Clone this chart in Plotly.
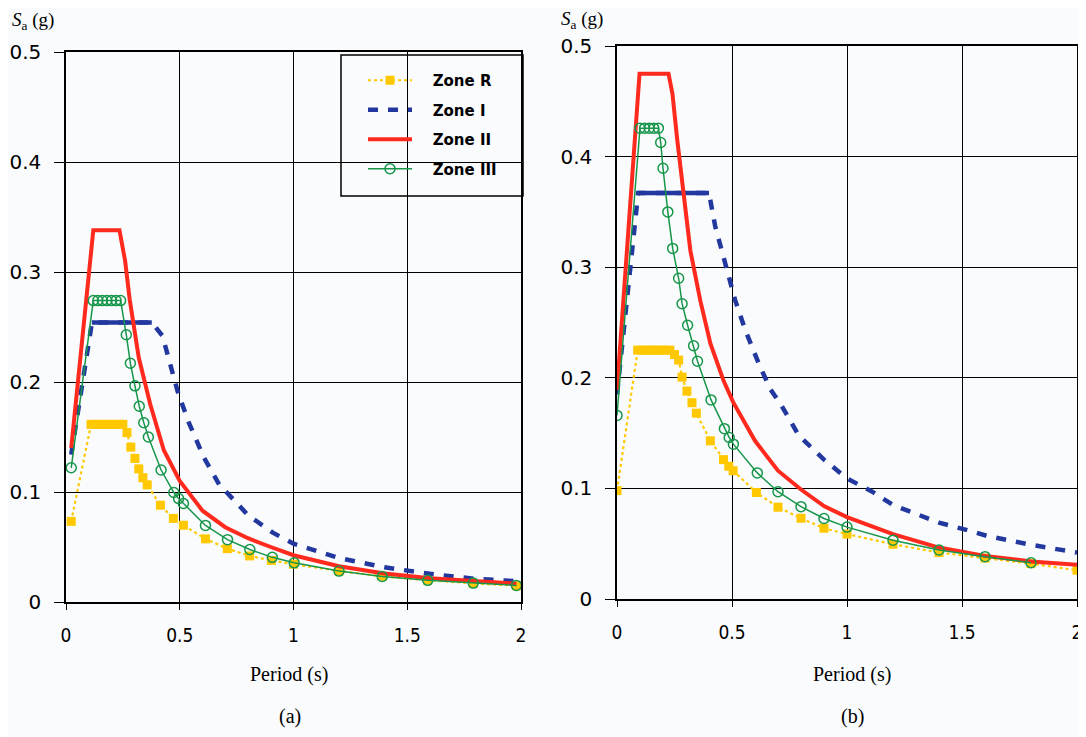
import plotly.graph_objects as go

# ---------------- data: panel (a) ----------------
t_R_a = [0.023, 0.11, 0.13, 0.15, 0.17, 0.19, 0.21, 0.23, 0.25, 0.268, 0.285, 0.303, 0.32, 0.338, 0.357,
         0.415, 0.472, 0.516, 0.613, 0.709, 0.807, 0.903, 1.0, 1.2, 1.39, 1.59, 1.79, 1.98]
sa_R_a = [0.0733, 0.1615, 0.1615, 0.1615, 0.1615, 0.1615, 0.1615, 0.1615, 0.1615, 0.154, 0.1408, 0.1305, 0.121,
          0.113, 0.1065, 0.088, 0.076, 0.0698, 0.0574, 0.0485, 0.0419, 0.0378, 0.0344, 0.0282, 0.0234, 0.0199,
          0.0169, 0.0148]

t_I_a = [0.023, 0.114, 0.15, 0.2, 0.25, 0.3, 0.35, 0.377, 0.424, 0.455, 0.49, 0.538, 0.607, 0.673, 0.725,
         0.8, 0.909, 1.0, 1.2, 1.4, 1.6, 1.8, 1.98]
sa_I_a = [0.134, 0.254, 0.254, 0.254, 0.254, 0.254, 0.254, 0.254, 0.242, 0.22, 0.192, 0.164, 0.131, 0.107,
          0.0955, 0.079, 0.063, 0.053, 0.040, 0.0315, 0.0256, 0.021, 0.019]

t_II_a = [0.023, 0.12, 0.235, 0.26, 0.28, 0.32, 0.37, 0.43, 0.5, 0.6, 0.7, 0.8, 0.9, 1.0, 1.2, 1.4, 1.6,
          1.8, 1.98]
sa_II_a = [0.14, 0.338, 0.338, 0.31, 0.275, 0.222, 0.18, 0.138, 0.11, 0.083, 0.068, 0.058, 0.050, 0.0425,
           0.0325, 0.026, 0.0215, 0.0188, 0.0167]

t_III_a = [0.023, 0.12, 0.14, 0.16, 0.18, 0.20, 0.22, 0.24, 0.265, 0.283, 0.303, 0.322, 0.342, 0.362, 0.418,
           0.474, 0.495, 0.516, 0.613, 0.71, 0.808, 0.907, 1.003, 1.2, 1.39, 1.59, 1.79, 1.98]
sa_III_a = [0.122, 0.274, 0.274, 0.274, 0.274, 0.274, 0.274, 0.274, 0.243, 0.217, 0.1965, 0.178, 0.163, 0.150,
            0.120, 0.0995, 0.094, 0.0896, 0.0696, 0.0567, 0.0477, 0.0406, 0.0356, 0.0281, 0.0232, 0.0197,
            0.0172, 0.0151]

# ---------------- data: panel (b) ----------------
t_R_b = [0.0, 0.09, 0.11, 0.13, 0.15, 0.17, 0.19, 0.21, 0.23, 0.25, 0.268, 0.283, 0.304, 0.326, 0.345,
         0.406, 0.463, 0.486, 0.505, 0.606, 0.70, 0.80, 0.90, 1.0, 1.2, 1.4, 1.6, 1.8, 2.0]
sa_R_b = [0.098, 0.225, 0.225, 0.225, 0.225, 0.225, 0.225, 0.225, 0.225, 0.221, 0.216, 0.2006, 0.188, 0.1775,
          0.168, 0.143, 0.126, 0.12, 0.116, 0.0963, 0.083, 0.073, 0.064, 0.0587, 0.0495, 0.042, 0.037, 0.032,
          0.026]

t_I_b = [0.0, 0.092, 0.15, 0.2, 0.25, 0.3, 0.36, 0.40, 0.427, 0.467, 0.514, 0.558, 0.616, 0.666, 0.715,
         0.79, 0.9, 1.0, 1.11, 1.2, 1.4, 1.51, 1.61, 1.8, 1.92, 2.0]
sa_I_b = [0.185, 0.367, 0.367, 0.367, 0.367, 0.367, 0.367, 0.367, 0.337, 0.306, 0.27, 0.243, 0.213, 0.19,
          0.175, 0.148, 0.126, 0.109, 0.097, 0.085, 0.069, 0.063, 0.057, 0.049, 0.045, 0.042]

t_II_b = [0.0, 0.098, 0.224, 0.241, 0.262, 0.284, 0.319, 0.362, 0.406, 0.464, 0.505, 0.6, 0.7, 0.8, 0.9,
          1.0, 1.2, 1.4, 1.6, 1.8, 2.0]
sa_II_b = [0.189, 0.475, 0.475, 0.457, 0.415, 0.376, 0.315, 0.27, 0.231, 0.197, 0.178, 0.143, 0.116, 0.099,
           0.084, 0.074, 0.0587, 0.0465, 0.039, 0.034, 0.031]

t_III_b = [0.0, 0.10, 0.12, 0.14, 0.16, 0.18, 0.19, 0.20, 0.221, 0.242, 0.268, 0.283, 0.307, 0.333, 0.35,
           0.409, 0.467, 0.488, 0.506, 0.61, 0.70, 0.80, 0.90, 1.0, 1.2, 1.4, 1.6, 1.8]
sa_III_b = [0.166, 0.4257, 0.4257, 0.4257, 0.4257, 0.4257, 0.4127, 0.3895, 0.35, 0.317, 0.29, 0.267, 0.2475,
            0.229, 0.215, 0.18, 0.154, 0.146, 0.14, 0.114, 0.097, 0.0835, 0.0728, 0.065, 0.0532, 0.0443,
            0.0383, 0.0328]

zone_names = ["Zone R", "Zone I", "Zone II", "Zone III"]
x_ticks = [0, 0.5, 1, 1.5, 2]
x_tick_text = ["0", "0.5", "1", "1.5", "2"]
y_ticks = [0, 0.1, 0.2, 0.3, 0.4, 0.5]
y_tick_text = ["0", "0.1", "0.2", "0.3", "0.4", "0.5"]

# ---------------- styles ----------------
C_R = "#ffc800"
C_I = "#22389f"
C_II = "#ff2a1e"
C_III = "#17964a"
BG = "#fafbfd"

W, H = 1086, 737
OFF = 8  # page body margin: screen position = figure position + 8


def fx(px):  # screen px -> paper x
    return (px - OFF) / W


def fy(py):  # screen px -> paper y
    return 1 - (py - OFF) / H


fig = go.Figure()


def add_panel(xa, ya, tR, sR, tI, sI, tII, sII, tIII, sIII, show):
    pad = "\u00a0\u00a0\u00a0"
    fig.add_trace(go.Scatter(x=tR, y=sR, name=pad + zone_names[0], mode="lines+markers", xaxis=xa, yaxis=ya,
                             line=dict(color=C_R, width=2.2, dash="dot"),
                             marker=dict(symbol="square", size=9, color=C_R),
                             legendgroup="R", showlegend=show))
    fig.add_trace(go.Scatter(x=tI, y=sI, name=pad + zone_names[1], mode="lines", xaxis=xa, yaxis=ya,
                             line=dict(color=C_I, width=4.5, dash="10px,10px"),
                             legendgroup="I", showlegend=show))
    # solid plateau of Zone I (the short segments there read as a continuous line)
    plat = [i for i, v in enumerate(sI) if v == max(sI)]
    fig.add_trace(go.Scatter(x=[tI[i] for i in plat], y=[sI[i] for i in plat], mode="lines",
                             xaxis=xa, yaxis=ya, line=dict(color=C_I, width=4.5),
                             legendgroup="I", showlegend=False, hoverinfo="skip"))
    fig.add_trace(go.Scatter(x=tII, y=sII, name=pad + zone_names[2], mode="lines", xaxis=xa, yaxis=ya,
                             line=dict(color=C_II, width=4),
                             legendgroup="II", showlegend=show))
    fig.add_trace(go.Scatter(x=tIII, y=sIII, name=pad + zone_names[3], mode="lines+markers", xaxis=xa, yaxis=ya,
                             line=dict(color=C_III, width=1.5),
                             marker=dict(symbol="circle-open", size=10, color=C_III, line=dict(width=1.5)),
                             legendgroup="III", showlegend=show))


add_panel("x", "y", t_R_a, sa_R_a, t_I_a, sa_I_a, t_II_a, sa_II_a, t_III_a, sa_III_a, True)
add_panel("x2", "y2", t_R_b, sa_R_b, t_I_b, sa_I_b, t_II_b, sa_II_b, t_III_b, sa_III_b, False)

xaxis_common = dict(range=[0, 2], tickvals=x_ticks, ticktext=x_tick_text, showgrid=True, gridcolor="black",
                    gridwidth=1.3, zeroline=False, showline=True, linecolor="black", linewidth=1.5,
                    mirror=True, ticks="outside", ticklen=6, tickcolor="black", tickwidth=1.3,
                    ticklabelstandoff=9, automargin=False,
                    tickfont=dict(family="DejaVu Sans Condensed, Liberation Sans Narrow, sans-serif",
                                  size=19, color="black"))
yaxis_common = dict(range=[0, 0.5], tickvals=y_ticks, ticktext=y_tick_text, showgrid=True, gridcolor="black",
                    gridwidth=1.3, zeroline=False, showline=True, linecolor="black", linewidth=1.5,
                    mirror=True, ticks="outside", ticklen=10, tickcolor="black", tickwidth=1.3,
                    ticklabelstandoff=9, automargin=False,
                    tickfont=dict(family="DejaVu Sans, Verdana, sans-serif", size=20, color="black"))

fig.update_layout(
    width=W, height=H,
    margin=dict(l=0, r=0, t=0, b=0, autoexpand=False),
    paper_bgcolor=BG, plot_bgcolor=BG,
    xaxis=dict(domain=[fx(66), fx(521)], anchor="y", **xaxis_common),
    yaxis=dict(domain=[fy(602), fy(52)], anchor="x", **yaxis_common),
    xaxis2=dict(domain=[fx(617), fx(1077)], anchor="y2", **xaxis_common),
    yaxis2=dict(domain=[fy(599), fy(46)], anchor="x2", **yaxis_common),
    legend=dict(x=fx(349), y=fy(64), xanchor="left", yanchor="top",
                bgcolor="rgba(0,0,0,0)", borderwidth=0,
                font=dict(family="DejaVu Sans, Verdana, sans-serif", size=15, color="black", weight="bold"),
                itemwidth=44, tracegroupgap=7, indentation=14),
    showlegend=True,
)

# legend frame
fig.add_shape(type="rect", xref="paper", yref="paper", x0=fx(341), x1=fx(523), y0=fy(196), y1=fy(55),
              line=dict(color="black", width=1.5), fillcolor="rgba(0,0,0,0)", layer="above")

serif = "Liberation Serif, Times New Roman, serif"
ann = [
    dict(text="<i>S</i><sub>a</sub> (g)", x=fx(10), y=fy(21), xanchor="left", yanchor="middle", size=19),
    dict(text="<i>S</i><sub>a</sub> (g)", x=fx(559), y=fy(20), xanchor="left", yanchor="middle", size=19),
    dict(text="Period (s)", x=fx(289), y=fy(674), xanchor="center", yanchor="middle", size=20),
    dict(text="Period (s)", x=fx(852), y=fy(674), xanchor="center", yanchor="middle", size=20),
    dict(text="(a)", x=fx(290), y=fy(716), xanchor="center", yanchor="middle", size=20),
    dict(text="(b)", x=fx(852), y=fy(716), xanchor="center", yanchor="middle", size=20),
]
for a in ann:
    sz = a.pop("size")
    fig.add_annotation(xref="paper", yref="paper", showarrow=False,
                       font=dict(family=serif, size=sz, color="black"), **a)

fig.write_html("out.html")
